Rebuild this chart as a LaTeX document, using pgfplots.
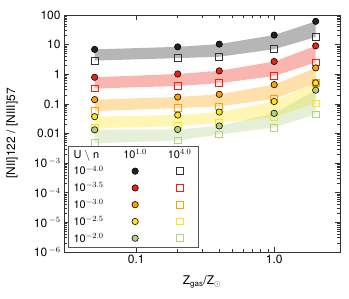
\documentclass[border=0pt]{standalone}
\usepackage{fontspec}
\setmainfont{TeX Gyre Heros}
\usepackage{pgfplots}
\pgfplotsset{compat=1.18}
\usepgfplotslibrary{fillbetween}
\usepackage{pgfplotstable}

\definecolor{cblack}{HTML}{222222}
\definecolor{cred}{HTML}{EE2211}
\definecolor{corange}{HTML}{FFA200}
\definecolor{cyellow}{HTML}{FFE41A}
\definecolor{cgreen}{HTML}{B4CF86}
\definecolor{framec}{HTML}{333333}
\definecolor{legframe}{HTML}{555555}

\pgfplotstableread{
x     c40   s40   c35   s35   c30    s30    c25    s25     c20     s20
0.05  6.9   2.9   0.79  0.33  0.139  0.057  0.037  0.015   0.0133  0.0047
0.2   8.4   3.5   1.02  0.40  0.17   0.072  0.042  0.0177  0.0137  0.0058
0.4   10.4  3.9   1.3   0.50  0.21   0.082  0.053  0.023   0.018   0.0093
1.0   21    7.0   2.7   0.87  0.447  0.146  0.12   0.0357  0.048   0.0159
2.0   61    18    9.1   2.5   1.64   0.50   0.51   0.104   0.29    0.044
}\data

\pgfplotsset{
  circ/.style={only marks, mark=*, mark size=3.2pt, mark options={fill=#1, draw=black, line width=0.6pt}},
  sq/.style={only marks, mark=square, mark size=3.4pt, mark options={draw=#1, line width=0.8pt}},
  hdr/.style={legend image code/.code={\node[inner sep=0pt, anchor=center] at (0.3cm,0pt) {#1};}},
  blank/.style={legend image code/.code={}},
}

\begin{document}
\begin{tikzpicture}
\begin{axis}[
  xmode=log, ymode=log,
  scale only axis,
  width=276bp, height=237bp,
  xmin=0.03, xmax=3,
  ymin=1e-6, ymax=100,
  axis line style={framec, line width=0.9pt},
  every tick/.style={framec, line width=0.7pt},
  major tick length=5bp, minor tick length=3bp,
  tick align=inside,
  xtick={0.1,1}, xticklabels={0.1,1.0},
  ytick={1e-6,1e-5,1e-4,1e-3,1e-2,1e-1,1,10,100},
  yticklabels={10\,$^{-6}$,10\,$^{-5}$,10\,$^{-4}$,10\,$^{-3}$,0.01,0.1,1,10,100},
  ticklabel style={font=\fontsize{12}{14}\selectfont},
  xlabel={Z$_{\rm gas}$/Z$_\odot$},
  ylabel={[NII]122 / [NIII]57},
  label style={font=\fontsize{12}{14}\selectfont},
  xlabel style={at={(axis description cs:0.5,-0.127)}, anchor=center},
  ylabel style={at={(axis description cs:-0.188,0.5)}, anchor=center},
  clip=false,
  legend columns=3,
  legend plot pos=left,
  legend cell align=left,
  legend style={at={(axis description cs:0.015,0.017)}, anchor=south west,
    draw=legframe, line width=0.9pt, fill=white,
    font=\fontsize{11}{12}\selectfont, row sep=2.2pt, column sep=0pt},
]
% bands
\addplot[name path=c40, draw=none, forget plot] table[x=x,y=c40]{\data};
\addplot[name path=s40, draw=none, forget plot] table[x=x,y=s40]{\data};
\addplot[fill=cblack, fill opacity=0.33, draw=none, forget plot] fill between[of=c40 and s40];
\addplot[name path=c35, draw=none, forget plot] table[x=x,y=c35]{\data};
\addplot[name path=s35, draw=none, forget plot] table[x=x,y=s35]{\data};
\addplot[fill=cred, fill opacity=0.33, draw=none, forget plot] fill between[of=c35 and s35];
\addplot[name path=c30, draw=none, forget plot] table[x=x,y=c30]{\data};
\addplot[name path=s30, draw=none, forget plot] table[x=x,y=s30]{\data};
\addplot[fill=corange, fill opacity=0.33, draw=none, forget plot] fill between[of=c30 and s30];
\addplot[name path=c25, draw=none, forget plot] table[x=x,y=c25]{\data};
\addplot[name path=s25, draw=none, forget plot] table[x=x,y=s25]{\data};
\addplot[fill=cyellow, fill opacity=0.33, draw=none, forget plot] fill between[of=c25 and s25];
\addplot[name path=c20, draw=none, forget plot] table[x=x,y=c20]{\data};
\addplot[name path=s20, draw=none, forget plot] table[x=x,y=s20]{\data};
\addplot[fill=cgreen, fill opacity=0.33, draw=none, forget plot] fill between[of=c20 and s20];
% markers
\addplot[sq=framec, forget plot] table[x=x,y=s40]{\data};
\addplot[circ=cblack, forget plot] table[x=x,y=c40]{\data};
\addplot[sq=cred, forget plot] table[x=x,y=s35]{\data};
\addplot[circ=cred, forget plot] table[x=x,y=c35]{\data};
\addplot[sq=corange, forget plot] table[x=x,y=s30]{\data};
\addplot[circ=corange, forget plot] table[x=x,y=c30]{\data};
\addplot[sq=cyellow, forget plot] table[x=x,y=s25]{\data};
\addplot[circ=cyellow, forget plot] table[x=x,y=c25]{\data};
\addplot[sq=cgreen, forget plot] table[x=x,y=s20]{\data};
\addplot[circ=cgreen, forget plot] table[x=x,y=c20]{\data};
% legend table
\addlegendimage{blank}\addlegendentry{\makebox[48pt][l]{U $\backslash$ n}}
\addlegendimage{hdr={10$^{1.0}$}}\addlegendentry{\hspace*{17pt}}
\addlegendimage{hdr={10$^{4.0}$}}\addlegendentry{}
\addlegendimage{blank}\addlegendentry{10$^{-4.0}$}
\addlegendimage{circ=cblack}\addlegendentry{}
\addlegendimage{sq=framec}\addlegendentry{}
\addlegendimage{blank}\addlegendentry{10$^{-3.5}$}
\addlegendimage{circ=cred}\addlegendentry{}
\addlegendimage{sq=cred}\addlegendentry{}
\addlegendimage{blank}\addlegendentry{10$^{-3.0}$}
\addlegendimage{circ=corange}\addlegendentry{}
\addlegendimage{sq=corange}\addlegendentry{}
\addlegendimage{blank}\addlegendentry{10$^{-2.5}$}
\addlegendimage{circ=cyellow}\addlegendentry{}
\addlegendimage{sq=cyellow}\addlegendentry{}
\addlegendimage{blank}\addlegendentry{10$^{-2.0}$}
\addlegendimage{circ=cgreen}\addlegendentry{}
\addlegendimage{sq=cgreen}\addlegendentry{}
% page extent
\path (axis description cs:-0.232,-0.198) rectangle (axis description cs:1.0326,1.0633);
\end{axis}
\end{tikzpicture}
\end{document}
